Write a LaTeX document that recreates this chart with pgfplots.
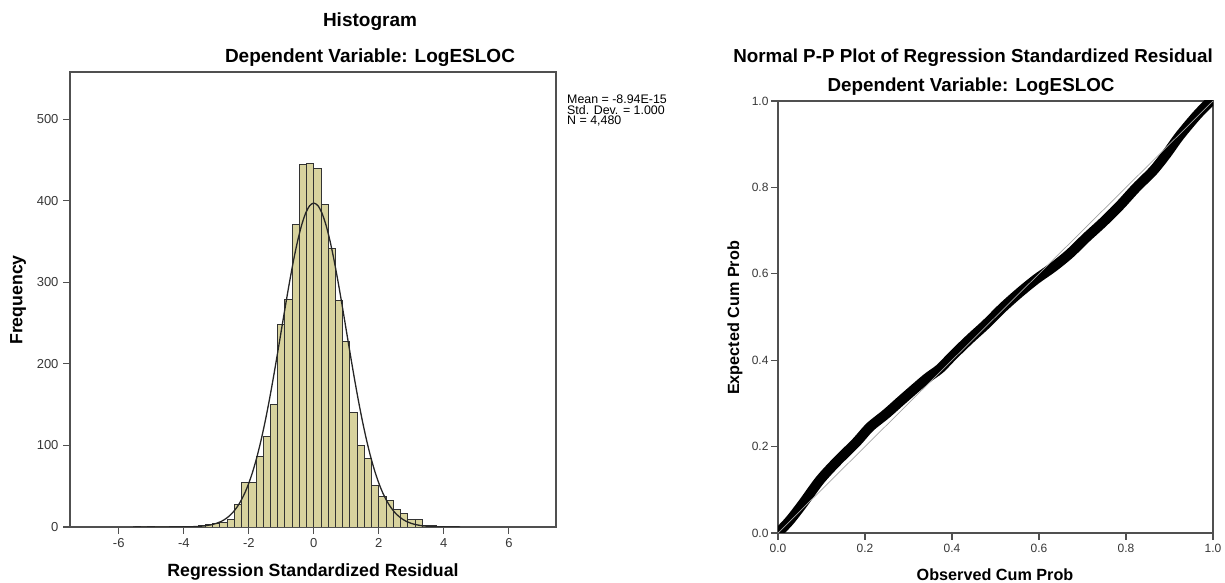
\documentclass[border=0pt]{standalone}
\usepackage{pgfplots}
\pgfplotsset{compat=1.18}
\usepackage{fontspec}
\setmainfont{Liberation Sans}
\definecolor{barfill}{RGB}{216,211,158}
\definecolor{axisgray}{RGB}{80,80,80}
\definecolor{ticktext}{RGB}{55,55,55}
\begin{document}
\begin{tikzpicture}
\path[use as bounding box] (0pt,0pt) rectangle (1225pt,583pt);
% ---------------- Histogram ----------------
\begin{axis}[
  at={(70pt,56pt)}, anchor=south west, scale only axis,
  width=486pt, height=455pt,
  xmin=-7.5, xmax=7.45, ymin=0, ymax=558,
  xtick={-6,-4,-2,0,2,4,6}, ytick={0,100,200,300,400,500},
  tick align=outside, xtick pos=left, ytick pos=left,
  major tick length=7pt,
  axis line style={axisgray, line width=1.1pt},
  every tick/.style={axisgray, line width=1.1pt},
  tick label style={font=\fontsize{13}{13}\selectfont, text=ticktext},
  xticklabel style={yshift=-1pt},
  yticklabel style={xshift=-1pt},
  /pgf/number format/assume math mode=true,
]
\addplot[ybar interval, fill=barfill, draw=black!80, line width=0.9pt] coordinates {
(-5.5556,1) (-5.3333,0) (-5.1111,1) (-4.8889,0) (-4.6667,0) (-4.4444,1)
(-4.2222,1) (-4.0000,0) (-3.7778,1) (-3.5556,2) (-3.3333,3) (-3.1111,4)
(-2.8889,6) (-2.6667,9) (-2.4444,28) (-2.2222,55) (-2.0000,55) (-1.7778,86)
(-1.5556,111) (-1.3333,150) (-1.1111,248) (-0.8889,279) (-0.6667,371)
(-0.4444,444) (-0.2222,446) (0.0000,440) (0.2222,395) (0.4444,341)
(0.6667,278) (0.8889,227) (1.1111,141) (1.3333,100) (1.5556,84)
(1.7778,51) (2.0000,37) (2.2222,33) (2.4444,21) (2.6667,17) (2.8889,9)
(3.1111,9) (3.3333,2) (3.5556,2) (3.7778,1) (4.0000,1) (4.2222,1) (4.4444,0)
};
\addplot[black!85, line width=1.3pt, smooth] coordinates {
(-5.5,0) (-5,0.0015) (-4.5,0.016) (-4,0.133) (-3.75,0.351) (-3.5,0.869)
(-3.375,1.34) (-3.25,2.02) (-3.125,3.01) (-3,4.41) (-2.875,6.37) (-2.75,9.05)
(-2.625,12.7) (-2.5,17.45) (-2.375,23.7) (-2.25,31.6) (-2.125,41.5) (-2,53.76)
(-1.875,68.5) (-1.75,85.9) (-1.625,106.1) (-1.5,128.95) (-1.375,154.3)
(-1.25,181.85) (-1.125,210.96) (-1,240.9) (-0.875,270.9) (-0.75,299.8)
(-0.625,326.7) (-0.5,350.5) (-0.375,370.2) (-0.25,385.0) (-0.125,394.1)
(0,397.2) (0.125,394.1) (0.25,385.0) (0.375,370.2) (0.5,350.5) (0.625,326.7)
(0.75,299.8) (0.875,270.9) (1,240.9) (1.125,210.96) (1.25,181.85)
(1.375,154.3) (1.5,128.95) (1.625,106.1) (1.75,85.9) (1.875,68.5) (2,53.76)
(2.125,41.5) (2.25,31.6) (2.375,23.7) (2.5,17.45) (2.625,12.7) (2.75,9.05)
(2.875,6.37) (3,4.41) (3.125,3.01) (3.25,2.02) (3.375,1.34) (3.5,0.869)
(3.75,0.351) (4,0.133) (4.5,0.016)
};
\end{axis}
% ---------------- P-P plot ----------------
\begin{axis}[
  at={(778pt,50pt)}, anchor=south west, scale only axis,
  width=435pt, height=432pt,
  xmin=0, xmax=1, ymin=0, ymax=1,
  xtick={0,0.2,0.4,0.6,0.8,1.0}, ytick={0,0.2,0.4,0.6,0.8,1.0},
  tick align=outside, xtick pos=left, ytick pos=left,
  major tick length=7pt,
  axis line style={axisgray, line width=1.1pt},
  every tick/.style={axisgray, line width=1.1pt},
  tick label style={font=\fontsize{12}{12}\selectfont, text=ticktext},
  /pgf/number format/assume math mode=true,
  xticklabel style={yshift=-1pt, /pgf/number format/.cd, fixed, fixed zerofill, precision=1},
  yticklabel style={xshift=1pt, /pgf/number format/.cd, fixed, fixed zerofill, precision=1},
]
\addplot[black, line width=10pt, smooth, line join=round] coordinates {
(0,0) (0.027,0.029) (0.057,0.068) (0.096,0.122) (0.134,0.164) (0.18,0.21)
(0.211,0.245) (0.249,0.276) (0.287,0.31) (0.341,0.357) (0.372,0.38)
(0.402,0.411) (0.441,0.449) (0.479,0.484) (0.517,0.522) (0.556,0.557)
(0.594,0.588) (0.632,0.615) (0.67,0.646) (0.709,0.684) (0.747,0.719)
(0.785,0.757) (0.824,0.8) (0.862,0.838) (0.893,0.877) (0.923,0.919)
(0.962,0.966) (0.992,0.997) (1,1)
};
\addplot[gray!70, line width=0.7pt] coordinates {(0,0) (1,1)};
\end{axis}
% ---------------- texts ----------------
\node[font=\bfseries\fontsize{19}{19}\selectfont] at (370pt,561pt) {Histogram};
\node[font=\bfseries\fontsize{19}{19}\selectfont] at (370pt,525pt) {Dependent Variable: LogESLOC};
\node[font=\bfseries\fontsize{17.7}{17.7}\selectfont, rotate=90] at (18pt,283pt) {Frequency};
\node[font=\bfseries\fontsize{17.7}{17.7}\selectfont, anchor=base] at (313pt,6.5pt) {Regression Standardized Residual};
\node[font=\fontsize{12.4}{10.5}\selectfont, anchor=north west, align=left, inner sep=0pt] at (567pt,488pt) {Mean = -8.94E-15\\Std. Dev. = 1.000\\N = 4,480};
\node[font=\bfseries\fontsize{18.8}{18.8}\selectfont] at (973pt,525pt) {Normal P-P Plot of Regression Standardized Residual};
\node[font=\bfseries\fontsize{18.8}{18.8}\selectfont] at (971pt,496pt) {Dependent Variable: LogESLOC};
\node[font=\bfseries\fontsize{16.2}{16.2}\selectfont, rotate=90] at (735pt,265pt) {Expected Cum Prob};
\node[font=\bfseries\fontsize{16.2}{16.2}\selectfont, anchor=base] at (995pt,2pt) {Observed Cum Prob};
\end{tikzpicture}
\end{document}
